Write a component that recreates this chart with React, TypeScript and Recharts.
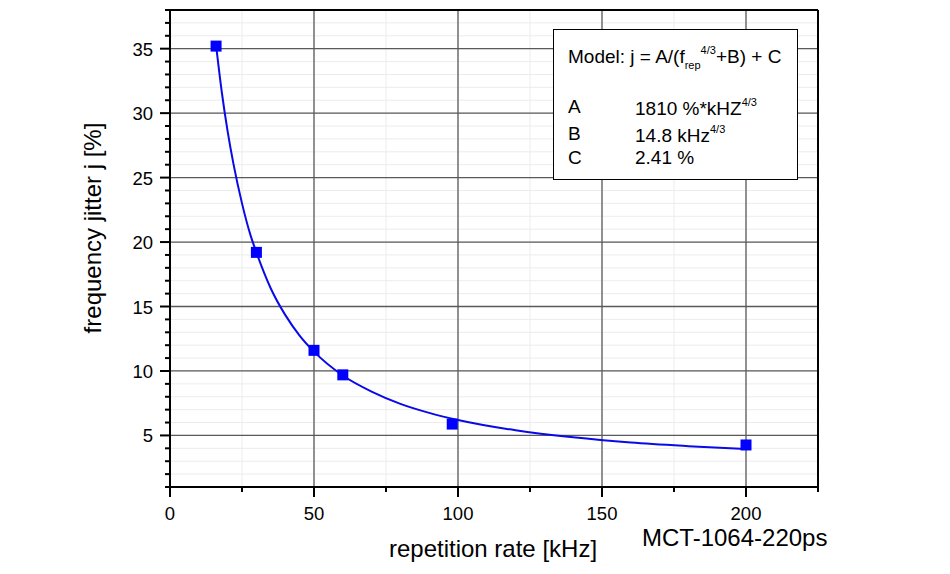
import React from 'react'
import {
  ComposedChart,
  Line,
  Scatter,
  XAxis,
  YAxis,
  CartesianGrid,
  ReferenceLine,
} from 'recharts'

// measured points
const measuredRate = [16, 30, 50, 60, 98, 200]
const measuredJitter = [35.2, 19.2, 11.6, 9.7, 5.88, 4.26]

// fit curve
const fitRate = [16, 18, 20, 22, 25, 28, 30, 35, 40, 45, 50, 60, 70, 80, 90, 100, 120, 140, 160, 180, 200]
const fitJitter = [35.25, 31.6, 28.6, 26.1, 23.0, 20.5, 19.2, 16.4, 14.35, 12.75, 11.5, 9.65, 8.4, 7.45, 6.75, 6.2, 5.4, 4.85, 4.45, 4.17, 3.94]

const xMajor = [0, 50, 100, 150, 200]
const xTicks = [0, 25, 50, 75, 100, 125, 150, 175, 200, 225]
const yMajor = [5, 10, 15, 20, 25, 30, 35]
const yTicks = Array.from({ length: 38 }, (_, i) => i + 1)

const measured = measuredRate.map((x, i) => ({ x, y: measuredJitter[i] }))
const fit = fitRate.map((x, i) => ({ x, y: fitJitter[i] }))

const FONT = '"Liberation Sans", Arial, sans-serif'

function XTick({ x, y, payload }: any) {
  const major = xMajor.includes(payload.value)
  return (
    <g>
      <line x1={x} x2={x} y1={y} y2={y + (major ? 10 : 5)} stroke="#000" strokeWidth={2} />
      {major && (
        <text x={x} y={y + 33} textAnchor="middle" fontSize={18.5} fontFamily={FONT} fill="#000">
          {payload.value}
        </text>
      )}
    </g>
  )
}

function YTick({ x, y, payload }: any) {
  const major = yMajor.includes(payload.value)
  return (
    <g>
      <line x1={x - (major ? 10 : 5)} x2={x} y1={y} y2={y} stroke="#000" strokeWidth={2} />
      {major && (
        <text x={x - 17} y={y + 7} textAnchor="end" fontSize={18.5} fontFamily={FONT} fill="#000">
          {payload.value}
        </text>
      )}
    </g>
  )
}

function Square({ cx, cy }: any) {
  return <rect x={cx - 5.5} y={cy - 5.5} width={11} height={11} fill="#0000ff" />
}

export default function App() {
  return (
    <div style={{ position: 'absolute', left: 0, top: 0, width: 950, height: 574, background: '#fff', fontFamily: FONT }}>
      <ComposedChart
        width={950}
        height={574}
        margin={{ top: 9, right: 131, left: 169, bottom: 86 }}
      >
        <CartesianGrid stroke="#ececec" strokeWidth={1} xAxisId="b" yAxisId="l" />
        <XAxis
          xAxisId="b"
          type="number"
          dataKey="x"
          domain={[0, 225]}
          ticks={xTicks}
          interval={0}
          tick={<XTick />}
          tickLine={false}
          tickSize={0}
          tickMargin={0}
          height={1}
          axisLine={{ stroke: '#000', strokeWidth: 2 }}
          allowDataOverflow
        />
        <XAxis
          xAxisId="t"
          orientation="top"
          type="number"
          domain={[0, 225]}
          tick={false}
          tickLine={false}
          height={1}
          axisLine={{ stroke: '#000', strokeWidth: 2 }}
        />
        <YAxis
          yAxisId="l"
          type="number"
          domain={[1, 38]}
          ticks={yTicks}
          interval={0}
          tick={<YTick />}
          tickLine={false}
          tickSize={0}
          tickMargin={0}
          width={1}
          axisLine={{ stroke: '#000', strokeWidth: 2 }}
          allowDataOverflow
        />
        <YAxis
          yAxisId="r"
          orientation="right"
          type="number"
          domain={[1, 38]}
          tick={false}
          tickLine={false}
          width={1}
          axisLine={{ stroke: '#000', strokeWidth: 2 }}
        />
        {xMajor.slice(1).map((v) => (
          <ReferenceLine key={'vx' + v} x={v} xAxisId="b" yAxisId="l" stroke="#5a5a5a" strokeWidth={1.3} />
        ))}
        {yMajor.map((v) => (
          <ReferenceLine key={'hy' + v} y={v} xAxisId="b" yAxisId="l" stroke="#5a5a5a" strokeWidth={1.3} />
        ))}
        <Line
          data={fit}
          xAxisId="b"
          yAxisId="l"
          dataKey="y"
          type="monotone"
          stroke="#0a0ae6"
          strokeWidth={2}
          dot={false}
          isAnimationActive={false}
        />
        <Scatter
          data={measured}
          xAxisId="b"
          yAxisId="l"
          dataKey="y"
          shape={<Square />}
          isAnimationActive={false}
        />
      </ComposedChart>

      <div
        style={{
          position: 'absolute',
          left: 553,
          top: 29,
          width: 243,
          height: 149,
          background: '#fff',
          border: '1.5px solid #000',
          fontSize: 19,
          color: '#000',
        }}
      >
        <div style={{ position: 'absolute', left: 14, top: 14, whiteSpace: 'nowrap' }}>
          Model: j = A/(f
          <sub style={{ fontSize: 11, verticalAlign: -6 }}>rep</sub>
          <sup style={{ fontSize: 11, verticalAlign: 9 }}>4/3</sup>
          +B) + C
        </div>
        <div style={{ position: 'absolute', left: 14, top: 66 }}>A</div>
        <div style={{ position: 'absolute', left: 81, top: 66, whiteSpace: 'nowrap' }}>
          1810 %*kHZ<sup style={{ fontSize: 11, verticalAlign: 9 }}>4/3</sup>
        </div>
        <div style={{ position: 'absolute', left: 14, top: 93 }}>B</div>
        <div style={{ position: 'absolute', left: 81, top: 93, whiteSpace: 'nowrap' }}>
          14.8 kHz<sup style={{ fontSize: 11, verticalAlign: 9 }}>4/3</sup>
        </div>
        <div style={{ position: 'absolute', left: 14, top: 117 }}>C</div>
        <div style={{ position: 'absolute', left: 81, top: 117, whiteSpace: 'nowrap' }}>2.41 %</div>
      </div>

      <div style={{ position: 'absolute', left: 0, width: 986, top: 535, textAlign: 'center', fontSize: 24 }}>
        repetition rate [kHz]
      </div>
      <div style={{ position: 'absolute', left: 642, top: 524, fontSize: 24 }}>MCT-1064-220ps</div>
      <div
        style={{
          position: 'absolute',
          left: 93,
          top: 228,
          transform: 'translate(-50%, -50%) rotate(-90deg)',
          whiteSpace: 'nowrap',
          fontSize: 24,
        }}
      >
        frequency jitter j [%]
      </div>
    </div>
  )
}
